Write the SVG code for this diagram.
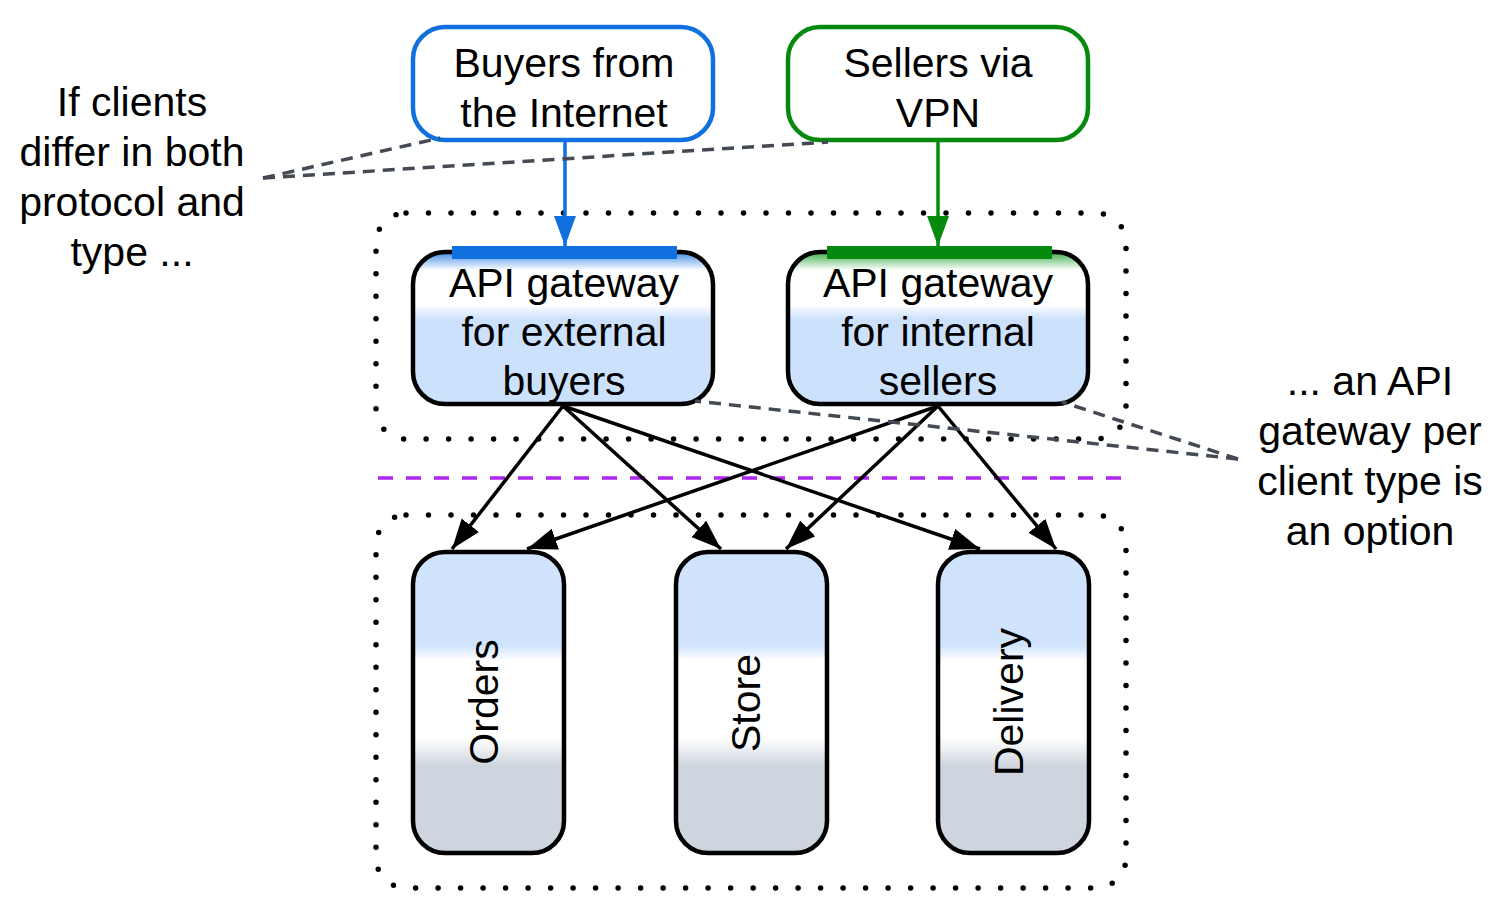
<svg xmlns="http://www.w3.org/2000/svg" width="1508" height="923" viewBox="0 0 1508 923">
<style>
text{font-family:"Liberation Sans",Arial,sans-serif;font-size:41px;fill:#000;text-anchor:middle}
.dots{fill:none;stroke:#000;stroke-width:5.5;stroke-linecap:round;stroke-dasharray:0 22.5}
.note{fill:none;stroke:#434a54;stroke-width:3.5;stroke-dasharray:12 8}
.edge{fill:none;stroke:#000;stroke-width:3.5}
.gw{stroke:#000;stroke-width:4.5}
.svc{stroke:#000;stroke-width:4.5;fill:url(#gsvc)}
</style>
<defs>
<linearGradient id="gblue" x1="0" y1="0" x2="0" y2="1">
<stop offset="0" stop-color="#3f8ae6"/>
<stop offset="0.12" stop-color="#ffffff"/>
<stop offset="0.35" stop-color="#ffffff"/>
<stop offset="0.44" stop-color="#cce1fb"/>
<stop offset="1" stop-color="#cce1fb"/>
</linearGradient>
<linearGradient id="ggreen" x1="0" y1="0" x2="0" y2="1">
<stop offset="0" stop-color="#3ead4a"/>
<stop offset="0.12" stop-color="#ffffff"/>
<stop offset="0.35" stop-color="#ffffff"/>
<stop offset="0.44" stop-color="#cce1fb"/>
<stop offset="1" stop-color="#cce1fb"/>
</linearGradient>
<linearGradient id="gsvc" x1="0" y1="0" x2="0" y2="1">
<stop offset="0" stop-color="#cfe3fc"/>
<stop offset="0.31" stop-color="#cfe3fc"/>
<stop offset="0.36" stop-color="#ffffff"/>
<stop offset="0.62" stop-color="#ffffff"/>
<stop offset="0.71" stop-color="#ced5de"/>
<stop offset="1" stop-color="#ced5de"/>
</linearGradient>
<marker id="ab" markerUnits="userSpaceOnUse" markerWidth="32" markerHeight="24" refX="30" refY="11" orient="auto">
<path d="M0,0 L30,11 L0,22 Z" fill="#000"/>
</marker>
<marker id="abl" markerUnits="userSpaceOnUse" markerWidth="32" markerHeight="24" refX="30" refY="11" orient="auto">
<path d="M0,0 L30,11 L0,22 Z" fill="#1070e0"/>
</marker>
<marker id="agr" markerUnits="userSpaceOnUse" markerWidth="32" markerHeight="24" refX="30" refY="11" orient="auto">
<path d="M0,0 L30,11 L0,22 Z" fill="#058a0f"/>
</marker>
</defs>

<g id="zones">
<rect class="dots" x="376" y="213" width="750" height="226" rx="30"/>
<rect class="dots" x="376" y="515" width="750" height="373" rx="30"/>
<line x1="378" y1="478" x2="1128" y2="478" stroke="#b026f0" stroke-width="3.5" stroke-dasharray="15 13"/>
</g>

<g id="buyers">
<rect x="413" y="27" width="300" height="113" rx="32" fill="#fff" stroke="#1070e0" stroke-width="4.5"/>
<text x="564" y="77">Buyers from</text>
<text x="564" y="127">the Internet</text>
</g>
<g id="sellers">
<rect x="788" y="27" width="300" height="113" rx="32" fill="#fff" stroke="#058a0f" stroke-width="4.5"/>
<text x="938" y="77">Sellers via</text>
<text x="938" y="127">VPN</text>
</g>

<g id="gw-external">
<rect class="gw" x="413" y="252" width="300" height="152" rx="32" fill="url(#gblue)"/>
<rect x="452" y="246" width="225" height="13" fill="#1070e0"/>
<text x="564" y="297">API gateway</text>
<text x="564" y="346">for external</text>
<text x="564" y="395">buyers</text>
</g>
<g id="gw-internal">
<rect class="gw" x="788" y="252" width="300" height="152" rx="32" fill="url(#ggreen)"/>
<rect x="827" y="246" width="225" height="13" fill="#058a0f"/>
<text x="938" y="297">API gateway</text>
<text x="938" y="346">for internal</text>
<text x="938" y="395">sellers</text>
</g>

<g id="orders">
<rect class="svc" x="413" y="552" width="151" height="301" rx="32"/>
<text transform="translate(498,702) rotate(-90)">Orders</text>
</g>
<g id="store">
<rect class="svc" x="676" y="552" width="151" height="301" rx="32"/>
<text transform="translate(760,703) rotate(-90)">Store</text>
</g>
<g id="delivery">
<rect class="svc" x="938" y="552" width="151" height="301" rx="32"/>
<text transform="translate(1023,702) rotate(-90)">Delivery</text>
</g>

<g id="note-left">
<text x="132" y="116">If clients</text>
<text x="132" y="166">differ in both</text>
<text x="132" y="216">protocol and</text>
<text x="132" y="266">type ...</text>
</g>
<g id="note-right">
<text x="1370" y="395">... an API</text>
<text x="1370" y="445">gateway per</text>
<text x="1370" y="495">client type is</text>
<text x="1370" y="545">an option</text>
</g>

<g id="connectors">
<line class="edge" x1="565" y1="141" x2="565" y2="246" style="stroke:#1070e0" marker-end="url(#abl)"/>
<line class="edge" x1="938" y1="141" x2="938" y2="246" style="stroke:#058a0f" marker-end="url(#agr)"/>
<line class="edge" x1="563" y1="406" x2="452" y2="549" marker-end="url(#ab)"/>
<line class="edge" x1="563" y1="406" x2="721" y2="549" marker-end="url(#ab)"/>
<line class="edge" x1="563" y1="406" x2="980" y2="549" marker-end="url(#ab)"/>
<line class="edge" x1="938" y1="406" x2="527" y2="549" marker-end="url(#ab)"/>
<line class="edge" x1="938" y1="406" x2="786" y2="549" marker-end="url(#ab)"/>
<line class="edge" x1="938" y1="406" x2="1056" y2="549" marker-end="url(#ab)"/>
<line class="note" x1="263" y1="178" x2="440" y2="138"/>
<line class="note" x1="263" y1="178" x2="828" y2="142"/>
<line class="note" x1="1238" y1="459" x2="695" y2="401"/>
<line class="note" x1="1238" y1="459" x2="1062" y2="402"/>
</g>
</svg>
